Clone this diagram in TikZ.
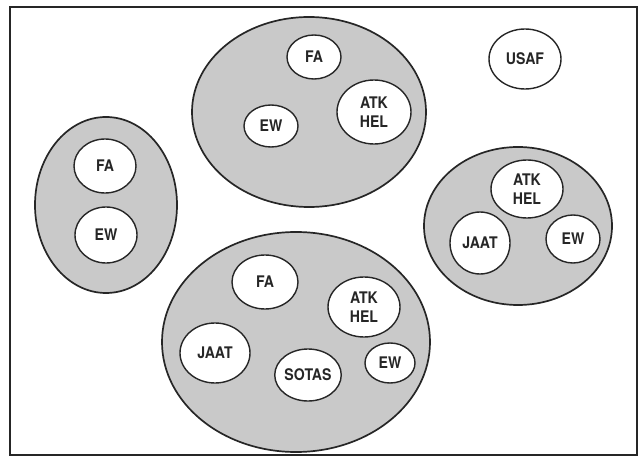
\documentclass[tikz,border=0pt]{standalone}
\usepackage{fontspec}
\newfontfamily\unitfont{TeX Gyre Heros}[FakeStretch=0.88]
\usetikzlibrary{shapes.geometric}
\definecolor{group-grey}{HTML}{C9C9C9}
\definecolor{ink}{HTML}{262626}

\begin{document}
\begin{tikzpicture}[x=1pt, y=-1pt,
    group/.style={ellipse, draw=ink, line width=1.7pt, fill=group-grey, inner sep=0pt},
    unit/.style={ellipse, draw=ink, line width=1.4pt, fill=white, inner sep=0pt,
                 align=center, text=ink,
                 font=\unitfont\bfseries\fontsize{16}{19}\selectfont}]
    % Diagram: team groupings inside a framed box.
    % Coordinates: (x, y) in pt, y grows downward, page 640 x 457
    %   frame from (10,7) to (637,455)
    %   top group at (309,112), left group at (106,205)
    %   right group at (518,226), bottom group at (296,342)
    \useasboundingbox (0,0) rectangle (640,457);
    \draw[ink, line width=2pt] (10,7) rectangle (637,455);

    % grey groups
    \node[group, minimum width=234pt, minimum height=190pt] (top group) at (309,112) {};
    \node[group, minimum width=142pt, minimum height=176pt] (left group) at (106,205) {};
    \node[group, minimum width=188pt, minimum height=158pt] (right group) at (518,226) {};
    \node[group, minimum width=268pt, minimum height=220pt] (bottom group) at (296,342) {};

    % top group
    \node[unit, minimum width=54pt, minimum height=44pt] (top fa) at (314,57) {FA};
    \node[unit, minimum width=54pt, minimum height=42pt] (top ew) at (271,126) {EW};
    \node[unit, minimum width=74pt, minimum height=64pt] (top atk) at (374,112) {ATK\\HEL};

    % on its own
    \node[unit, minimum width=72pt, minimum height=60pt] (usaf) at (525,59) {USAF};

    % left group
    \node[unit, minimum width=62pt, minimum height=54pt] (left fa) at (105,166) {FA};
    \node[unit, minimum width=62pt, minimum height=56pt] (left ew) at (106,235) {EW};

    % right group
    \node[unit, minimum width=72pt, minimum height=58pt] (right atk) at (527,189) {ATK\\HEL};
    \node[unit, minimum width=60pt, minimum height=62pt] (right jaat) at (480,243) {JAAT};
    \node[unit, minimum width=54pt, minimum height=48pt] (right ew) at (573,239) {EW};

    % bottom group
    \node[unit, minimum width=66pt, minimum height=54pt] (bottom fa) at (265,282) {FA};
    \node[unit, minimum width=70pt, minimum height=60pt] (bottom jaat) at (215,353) {JAAT};
    \node[unit, minimum width=62pt, minimum height=52pt] (bottom sotas) at (308,375) {SOTAS};
    \node[unit, minimum width=72pt, minimum height=60pt] (bottom atk) at (364,307) {ATK\\HEL};
    \node[unit, minimum width=50pt, minimum height=40pt] (bottom ew) at (390,363) {EW};
\end{tikzpicture}
\end{document}
